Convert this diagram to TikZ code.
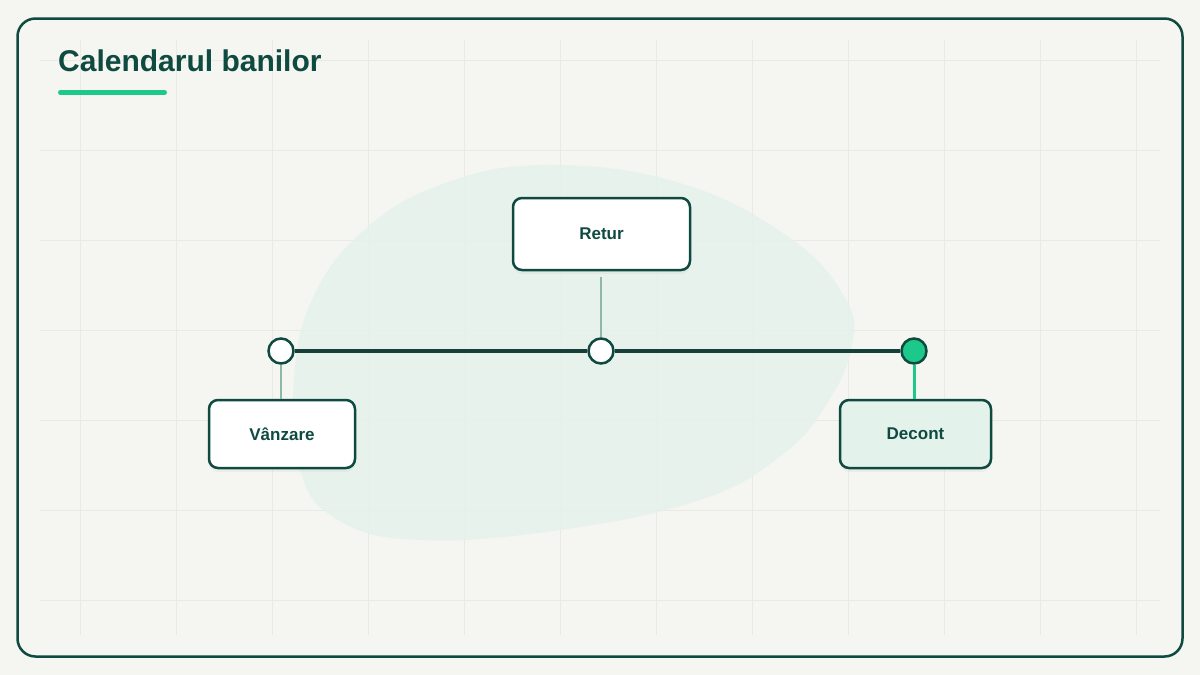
\documentclass[tikz,border=0pt]{standalone}
\usepackage{fontspec}
\setmainfont{Liberation Sans}
\usetikzlibrary{shadows}
\definecolor{bgc}{HTML}{F5F5F1}
\definecolor{gridc}{HTML}{EAEAE4}
\definecolor{darkc}{HTML}{0F4A40}
\definecolor{linec}{HTML}{163F3A}
\definecolor{greenc}{HTML}{1DC98A}
\definecolor{mutedc}{HTML}{8FB8A8}
\definecolor{blobc}{HTML}{E6F2EC}
\definecolor{softc}{HTML}{E4F2EC}
\tikzset{
  boxnode/.style={draw=darkc, line width=2.5pt, rounded corners=9pt, fill=white,
    text=darkc, font=\fontsize{17}{20}\selectfont\bfseries,
    drop shadow={opacity=0.07, shadow xshift=0pt, shadow yshift=-4pt}},
  dotnode/.style={circle, draw=darkc, line width=2.5pt, fill=white, minimum size=25pt, inner sep=0pt},
  stemline/.style={mutedc, line width=2.8pt},
  gridline/.style={gridc, line width=1pt}
}
\begin{document}
\begin{tikzpicture}[x=1pt,y=-1pt]
\useasboundingbox (0,0) rectangle (1200,675);
\fill[bgc] (0,0) rectangle (1200,675);
% grid
\foreach \k in {0,...,11} {\draw[gridline] (80+96*\k,40) -- (80+96*\k,635);}
\foreach \k in {0,...,6} {\draw[gridline] (40,60+90*\k) -- (1160,60+90*\k);}
% frame
\draw[darkc, line width=2.5pt, rounded corners=18pt] (17.5,18.5) rectangle (1182.5,656.5);
% blob
\fill[blobc, opacity=0.85] plot[smooth cycle, tension=0.7] coordinates {
 (545,165) (680,183) (790,238) (845,298) (852,345) (828,402) (782,455)
 (700,500) (560,530) (420,540) (338,520) (300,470) (294,380) (312,300)
 (362,232) (440,185)};
% title
\node[anchor=base west, inner sep=0pt, text=darkc, font=\fontsize{30}{36}\selectfont\bfseries] (title) at (58,71) {Calendarul banilor};
\coordinate (ul1) at (60.5,92.5);
\coordinate (ul2) at (164.5,92.5);
\draw[greenc, line width=5pt, line cap=round] (ul1) -- (ul2);
% dots
\node[dotnode] (d1) at (281,351) {};
\node[dotnode] (d2) at (601,351) {};
\node[dotnode, fill=greenc] (d3) at (914,351) {};
\draw[linec, line width=4.2pt] (d1.east) -- (d2.west);
\draw[linec, line width=4.2pt] (d2.east) -- (d3.west);
% boxes
\node[boxnode, minimum width=146pt, minimum height=68pt] (v) at (282,434) {Vânzare};
\node[boxnode, minimum width=177pt, minimum height=72pt] (r) at (601.5,234) {Retur};
\node[boxnode, fill=softc, minimum width=151pt, minimum height=68pt] (dc) at (915.5,434) {Decont};
% stems
\draw[stemline] (d1.south) -- (v.north -| d1);
\draw[stemline] (r.south -| d2) ++(0,6) -- (d2.north);
\draw[greenc, line width=3pt] (d3.south) -- (dc.north -| d3);
\end{tikzpicture}
\end{document}
